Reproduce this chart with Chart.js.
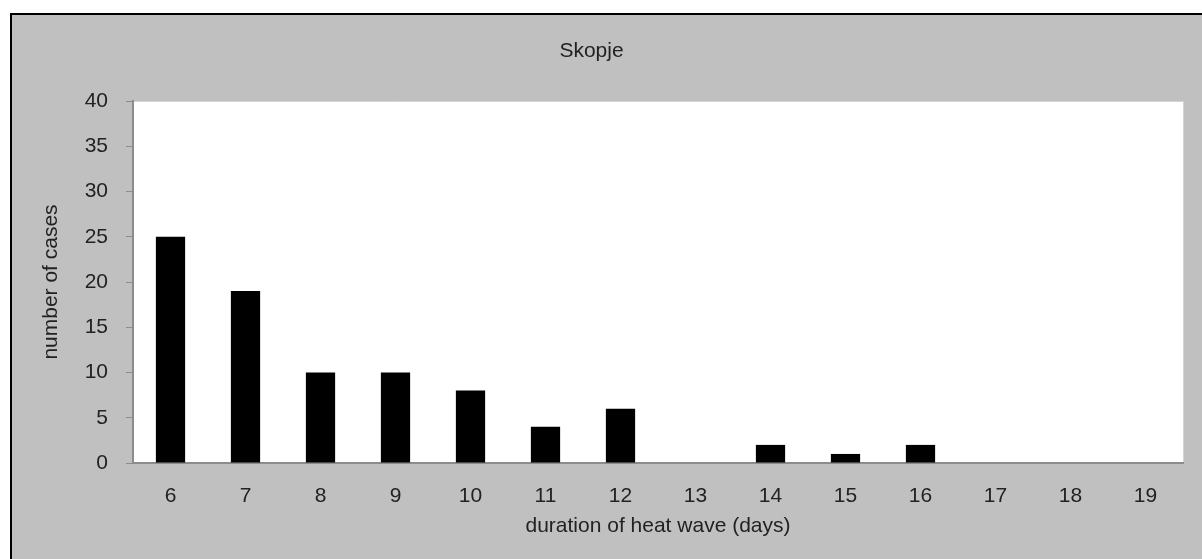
<!DOCTYPE html>
<html>
<head>
<meta charset="utf-8">
<script src="https://cdn.jsdelivr.net/npm/chart.js@4/dist/chart.umd.min.js"></script>
<style>
  html, body { margin: 0; padding: 0; background: #fff; }
  #wrap { width: 1202px; height: 559px; }
</style>
</head>
<body>
<div id="wrap"><canvas id="chart_skopje"></canvas></div>
<script>
  // data
  const durations = ['6', '7', '8', '9', '10', '11', '12', '13', '14', '15', '16', '17', '18', '19'];
  const cases = [25, 19, 10, 10, 8, 4, 6, 0, 2, 1, 2, 0, 0, 0];
  const titleText = 'Skopje';
  const xTitle = 'duration of heat wave (days)';
  const yTitle = 'number of cases';

  const font = { family: "'Liberation Sans', Arial, sans-serif", size: 21 };
  const textColor = '#222222';

  // frame: white outside, gray panel with black left/top edge, white plot area
  const framePlugin = {
    id: 'frame',
    beforeDraw(chart) {
      const ctx = chart.ctx;
      const a = chart.chartArea;
      ctx.save();
      ctx.fillStyle = '#ffffff';
      ctx.fillRect(0, 0, chart.width, chart.height);
      ctx.fillStyle = '#c0c0c0';
      ctx.fillRect(10, 13, chart.width - 10, chart.height - 13);
      ctx.fillStyle = '#000000';
      ctx.fillRect(10, 13, 2, chart.height - 13);
      ctx.fillRect(10, 13, chart.width - 10, 2);
      ctx.fillStyle = '#ffffff';
      ctx.fillRect(a.left, a.top, a.right - a.left, a.bottom - a.top);
      ctx.strokeStyle = '#d4d4d4';
      ctx.lineWidth = 1;
      ctx.beginPath();
      ctx.moveTo(a.left, a.top + 0.5);
      ctx.lineTo(a.right + 0.5, a.top + 0.5);
      ctx.lineTo(a.right + 0.5, a.bottom);
      ctx.stroke();
      ctx.restore();
    }
  };

  let chartEl = document.querySelector('#chart_skopje');

  if (chartEl) {
    new Chart(chartEl, {
      type: 'bar',
      data: {
        labels: durations,
        datasets: [{
          data: cases,
          backgroundColor: '#000000',
          borderWidth: 0,
          categoryPercentage: 1,
          barPercentage: 0.39
        }]
      },
      options: {
        responsive: true,
        maintainAspectRatio: false,
        animation: false,
        layout: { padding: { left: 0, right: 19, top: 0, bottom: 0 } },
        plugins: {
          legend: { display: false },
          tooltip: { enabled: false },
          title: {
            display: true,
            text: titleText,
            color: textColor,
            font: { ...font, weight: 'normal' },
            padding: { top: 39, bottom: 36.8 }
          }
        },
        scales: {
          x: {
            grid: { display: false, drawTicks: false },
            border: { display: true, color: '#8c8c8c', width: 2 },
            ticks: { color: textColor, font, padding: 21, maxRotation: 0, autoSkip: false },
            title: {
              display: true,
              text: xTitle,
              color: textColor,
              font,
              padding: { top: 0, bottom: 20 }
            },
            afterFit(scale) { scale.height = 96; }
          },
          y: {
            min: 0,
            max: 40,
            grid: { drawOnChartArea: false, drawTicks: true, tickLength: 7, color: '#8c8c8c' },
            border: { display: true, color: '#8c8c8c', width: 2 },
            ticks: { stepSize: 5, color: textColor, font, padding: 18 },
            title: {
              display: true,
              text: yTitle,
              color: textColor,
              font,
              padding: { top: 39, bottom: 0 }
            },
            afterFit(scale) { scale.width = 133; }
          }
        }
      },
      plugins: [framePlugin]
    });
  }
</script>
</body>
</html>
